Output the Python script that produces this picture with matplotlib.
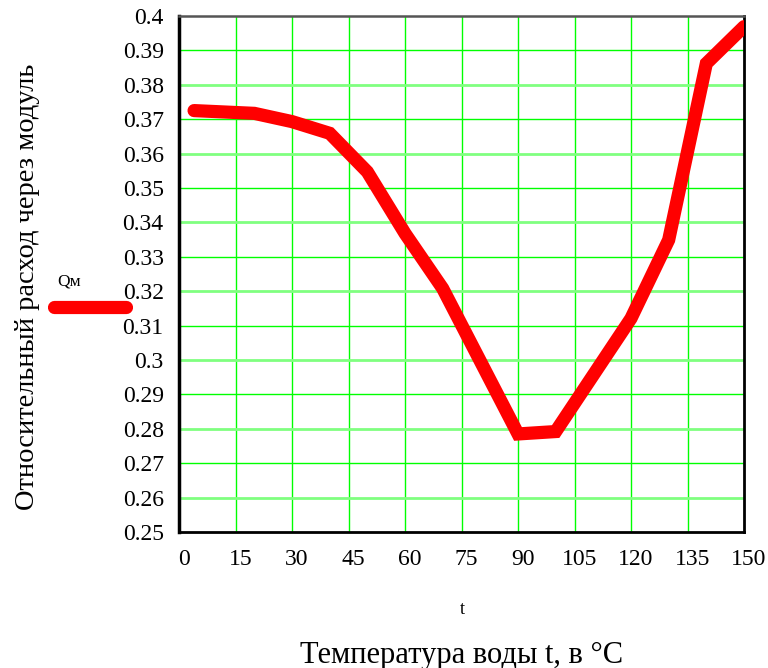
import matplotlib.pyplot as plt
from matplotlib.lines import Line2D
import matplotlib.transforms as mtransforms

# температура воды, °C
t = [4, 20, 30, 40, 50, 60, 70, 90, 100, 120, 130, 140, 150]
# относительный расход через модуль
q = [0.3725, 0.3717, 0.3693, 0.3659, 0.3547, 0.3368, 0.3208,
     0.2785, 0.2792, 0.3121, 0.3349, 0.3862, 0.3969]

x_ticks = list(range(0, 151, 15))
y_ticks = [round(0.25 + 0.01 * i, 2) for i in range(16)]
y_tick_labels = ['%g' % v for v in y_ticks]

plt.rcParams['font.family'] = ['Liberation Serif', 'DejaVu Serif']

dpi = 100
fig = plt.figure(dpi=dpi, figsize=(768 / dpi, 668 / dpi))
ax = fig.add_axes([179 / 768, (668 - 532) / 668, (744 - 179) / 768, (532 - 16) / 668])

ax.set_xlim(0, 150)
ax.set_ylim(0.25, 0.4)

# сетка
for xv in x_ticks[1:-1]:
    ax.axvline(xv, color='#00ff00', lw=1.0, zorder=1)
for i, yv in enumerate(y_ticks[1:-1]):
    if i % 2 == 0:
        ax.axhline(yv, color='#80ff80', lw=2.0, zorder=1)
    else:
        ax.axhline(yv, color='#00ff00', lw=1.0, zorder=1)

ax.plot(t, q, color='red', lw=9.5, solid_capstyle='round',
        solid_joinstyle='miter', zorder=3)

ax.set_xticks(x_ticks)
ax.set_xticklabels([str(v) for v in x_ticks])
ax.set_yticks(y_ticks)
ax.set_yticklabels(y_tick_labels)
ax.tick_params(axis='both', length=0, labelsize=17)
ax.tick_params(axis='x', pad=12)
ax.tick_params(axis='y', pad=11)
shift = mtransforms.ScaledTranslation(5 / dpi, 0, fig.dpi_scale_trans)
for lbl in ax.get_xticklabels():
    lbl.set_transform(lbl.get_transform() + shift)

ax.spines['left'].set_linewidth(2.5)
for s in ['bottom', 'right']:
    ax.spines[s].set_linewidth(2.0)
ax.spines['top'].set_linewidth(1.8)
ax.spines['top'].set_color('#555555')

ax.set_ylabel('Относительный расход через модуль', fontsize=20.5)
ax.yaxis.set_label_coords(-0.246, 0.475)

fig.text(462 / 768, 1 - 610 / 668, 't', fontsize=13, ha='center', va='center')
fig.text(462 / 768, 1 - 655 / 668, 'Температура воды t, в °C', fontsize=22,
         ha='center', va='center')

# легенда
fig.add_artist(Line2D([54 / 768, 126 / 768], [1 - 307 / 668, 1 - 307 / 668],
                      color='red', lw=9.5, solid_capstyle='round'))
fig.text(69 / 768, 1 - 282 / 668, 'Qм', fontsize=12.5, ha='center', va='center')

plt.savefig('out.png', dpi=dpi)
